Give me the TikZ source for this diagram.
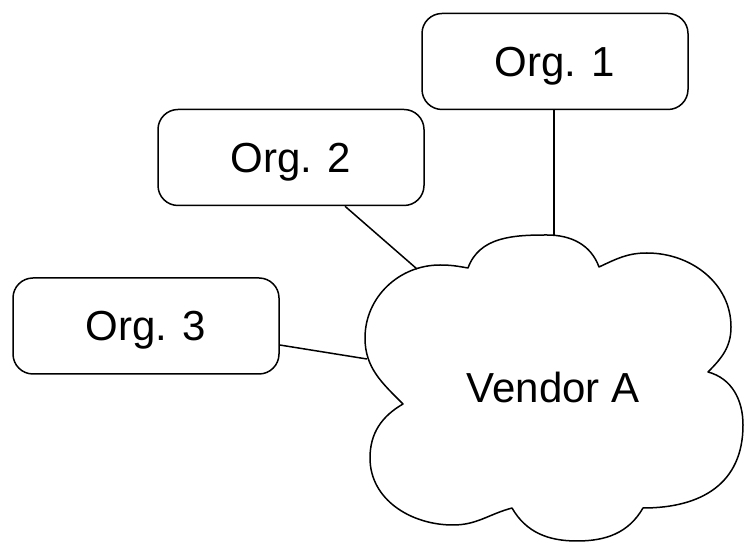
\documentclass[tikz,border=0pt]{standalone}
\usepackage{fontspec}
\setmainfont{Liberation Sans}
\begin{document}
\begin{tikzpicture}[x=1pt,y=1pt,
  label font/.style={font=\fontsize{42}{50}\selectfont, text height=30pt, text depth=0pt},
  orgbox/.style={draw=black, line width=1.5pt, rounded corners=20pt,
    minimum width=266pt, minimum height=96pt, inner sep=0pt, label font},
  link/.style={draw=black, line width=1.5pt},
  cloudline/.style={draw=black, line width=1.5pt, line join=round}]
\useasboundingbox (0,0) rectangle (752,543);

% organisations
\node[orgbox] (org1) at (555,481.5) {Org. 1};
\node[orgbox] (org2) at (291,385.5) {Org. 2};
\node[orgbox] (org3) at (146,217) {Org. 3};

% vendor cloud
\draw[cloudline] (403,139)
  to[out=135,in=270] (365,205)
  to[out=90,in=180] (440,278)
  to[out=0,in=170] (468,275)
  to[out=70,in=180] (547,308)
  to[out=0,in=110] (599,276)
  to[out=25,in=180] (647,290)
  to[out=0,in=90] (731,216)
  to[out=270,in=45] (708,171)
  to[out=-15,in=90] (743,118)
  to[out=270,in=0,looseness=1.15] (643,35)
  to[out=240,in=0] (577,2)
  to[out=180,in=300] (512,35)
  to[out=195,in=0] (453,18)
  to[out=180,in=270] (370,85)
  to[out=90,in=210] (403,139)
  -- cycle;
\node[label font, inner sep=0pt] (vendor) at (553,155) {Vendor A};

% attachment points on the cloud outline
\coordinate (v1) at (554,308);
\coordinate (v2) at (417,274);
\coordinate (v3) at (367,184);

% connectors
\draw[link] ([xshift=-1pt]org1.south) -- (v1);
\draw[link] ([xshift=54pt]org2.south) -- (v2);
\draw[link] ([yshift=-19pt]org3.east) -- (v3);
\end{tikzpicture}
\end{document}
